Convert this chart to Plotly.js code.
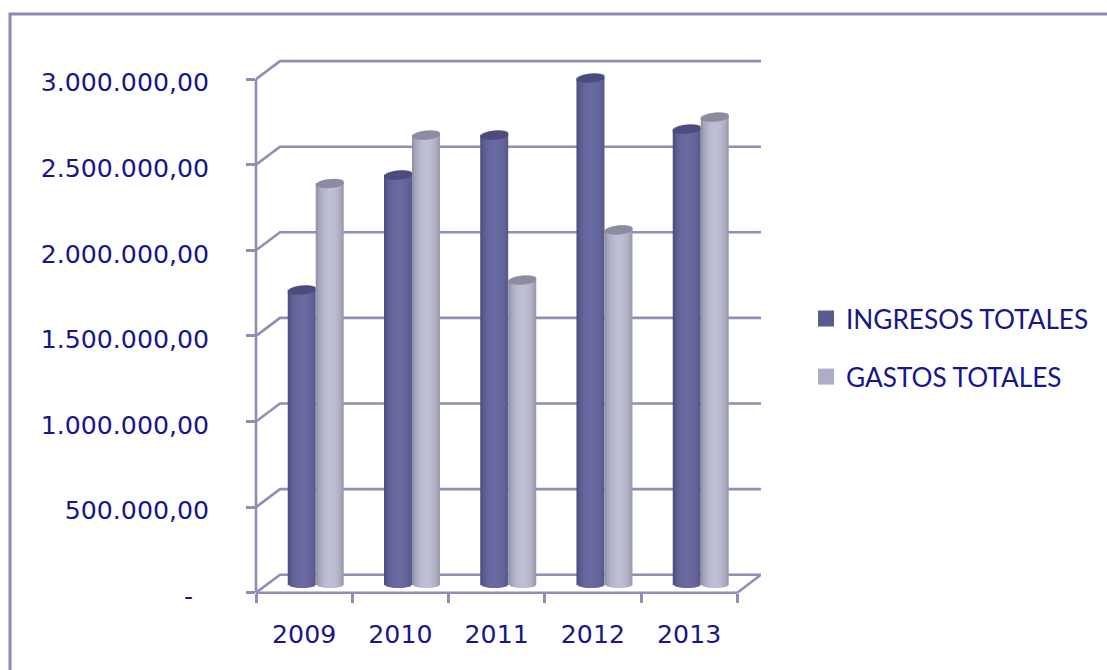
<!DOCTYPE html>
<html>
<head>
<meta charset="utf-8">
<script src="https://cdn.plot.ly/plotly-3.0.1.min.js"></script>
<style>html,body{margin:0;padding:0;background:#fff}#chart{width:1107px;height:670px}</style>
</head>
<body>
<div id="chart"></div>
<script>
// Yearly totals
const years = ['2009', '2010', '2011', '2012', '2013'];
const ingresos = [1715000, 2387000, 2620000, 2953000, 2655000];
const gastos = [2337000, 2620000, 1773000, 2066000, 2725000];
const seriesNames = ['INGRESOS TOTALES', 'GASTOS TOTALES'];
const yTicks = [0, 500000, 1000000, 1500000, 2000000, 2500000, 3000000];
const yTickLabels = ['-\u00a0\u00a0', '500.000,00', '1.000.000,00', '1.500.000,00', '2.000.000,00', '2.500.000,00', '3.000.000,00'];
const xBoundaries = [-0.5, 0.5, 1.5, 2.5, 3.5, 4.5];

// Page geometry, in pixels
const W = 1107, H = 670;
const plotLeft = 256, plotRight = 761, plotTop = 55, plotBottom = 620;
const axisY = 592.7;
const pxPerUnit = 85.6 / 500000;
const unitsPerPx = 1 / pxPerUnit;
const pxPerCat = 96.25;
const wallDx = 24 / pxPerCat, wallDy = 18 * unitsPerPx;

const yLo = (axisY - plotBottom) * unitsPerPx;
const yHi = (axisY - plotTop) * unitsPerPx;
const xLo = -0.5;
const xHi = xLo + (plotRight - plotLeft) / pxPerCat;

// Cylinder construction: each column is a run of narrow shaded strips
const colWidthPx = 28, stripPx = 2, radiusYPx = 4.5, capTiltPx = 1.2;
const stripCount = colWidthPx / stripPx;
const colDepthShift = 11.6 / pxPerCat;
const colBase = 53000;

function mix(a, b, t) {
  return 'rgb(' + a.map((v, i) => Math.round(v + (b[i] - v) * t)).join(',') + ')';
}

function cylinderTraces(values, seriesIndex, edge, rightEdge, centre, capColour) {
  const body = {x: [], y: [], base: [], width: [], color: []};
  const cap = {x: [], y: [], base: [], width: [], color: []};
  const stripW = stripPx / pxPerCat;
  values.forEach((v, cat) => {
    const left = cat + colDepthShift + (seriesIndex - 1) * colWidthPx / pxPerCat;
    for (let k = 0; k < stripCount; k++) {
      const u = (k + 0.5) / stripCount * 2 - 1;
      const h = radiusYPx * Math.sqrt(1 - u * u) * unitsPerPx;
      const tilt = capTiltPx * u * unitsPerPx;
      const top = colBase + v;
      const lower = colBase - h;
      const shade = Math.pow(Math.max(0, 1 - Math.pow((u - 0.05) / 1.05, 2)), 0.55);
      // Strips overlap the next one so no seams show between them
      const drawnW = k < stripCount - 1 ? stripW * 1.5 : stripW;
      const x = left + k * stripW + drawnW / 2;
      body.x.push(x);
      body.base.push(lower);
      body.y.push(top - lower + tilt);
      body.width.push(drawnW);
      body.color.push(mix(u < 0 ? edge : rightEdge, centre, shade));
      cap.x.push(x);
      cap.base.push(top + tilt - h);
      cap.y.push(2 * h);
      cap.width.push(drawnW);
      cap.color.push(capColour);
    }
  });
  const common = {type: 'bar', hoverinfo: 'skip', showlegend: false, xaxis: 'x', yaxis: 'y'};
  return [body, cap].map(s => Object.assign({}, common, {
    x: s.x, y: s.y, base: s.base, width: s.width,
    marker: {color: s.color, line: {width: 0}}
  }));
}

const legendColours = ['#5B5B91', '#ADADC6'];
const legendEntry = i => ({
  type: 'scatter', mode: 'markers', x: [null], y: [null],
  name: seriesNames[i], legendgroup: seriesNames[i],
  marker: {symbol: 'square', size: 18, color: legendColours[i]},
  xaxis: 'x', yaxis: 'y', hoverinfo: 'skip'
});

const traces = [
  ...cylinderTraces(ingresos, 0, [66, 66, 112], [72, 72, 118], [106, 106, 162], '#4B4B7E'),
  ...cylinderTraces(gastos, 1, [128, 128, 146], [118, 118, 134], [190, 190, 212], '#8C8CA0'),
  legendEntry(0),
  legendEntry(1)
];

const axisColour = '#8F8FB6';
const textColour = '#17178B';

// Back wall and floor lines, plus the two axis lines and the outer frame
const shapes = [];
const lineStyle = {color: axisColour, width: 2.6};
yTicks.forEach(t => {
  const back = t + wallDy;
  shapes.push({
    type: 'path', xref: 'x', yref: 'y', layer: 'below', line: lineStyle,
    path: `M ${xLo} ${t} L ${xLo + wallDx} ${back} L ${xHi} ${back}`
  });
});
shapes.push({
  type: 'line', xref: 'x', yref: 'y', layer: 'below', line: lineStyle,
  x0: xBoundaries[5], y0: 0, x1: xHi, y1: wallDy
});
shapes.push({
  type: 'line', xref: 'paper', yref: 'y', layer: 'below', line: lineStyle,
  x0: plotLeft / W, y0: 0, x1: plotLeft / W, y1: yTicks[6]
});
shapes.push({
  type: 'line', xref: 'x', yref: 'y', layer: 'below', line: lineStyle,
  x0: xLo, y0: 0, x1: xBoundaries[5], y1: 0
});
shapes.push({
  type: 'path', xref: 'paper', yref: 'paper', layer: 'below',
  line: {color: '#8C8CB2', width: 3},
  path: `M ${10 / W} -0.05 L ${10 / W} ${1 - 14 / H} L 1.05 ${1 - 14 / H}`
});

const labelShift = 3.5 * unitsPerPx;
const xDomain = [plotLeft / W, plotRight / W];
const axisFont = {family: 'DejaVu Sans, sans-serif', size: 25.2, color: textColour};

const layout = {
  width: W, height: H,
  margin: {l: 0, r: 0, t: 0, b: 0},
  paper_bgcolor: '#fff', plot_bgcolor: 'rgba(0,0,0,0)',
  barmode: 'overlay',
  showlegend: true,
  hovermode: false,
  legend: {
    x: 806 / W, xanchor: 'left', y: 1 - 295 / H, yanchor: 'top',
    font: {family: 'Lato, sans-serif', size: 26.2, color: textColour},
    bgcolor: 'rgba(0,0,0,0)', traceorder: 'grouped', tracegroupgap: 21,
    itemclick: false, itemdoubleclick: false
  },
  xaxis: {
    type: 'linear', domain: xDomain, range: [xLo, xHi], anchor: 'free',
    position: (H - axisY) / H, showgrid: false, zeroline: false, showline: false,
    tickmode: 'array', tickvals: years.map((_, i) => i), ticktext: years,
    ticks: '', tickfont: axisFont, ticklabelstandoff: 24
  },
  xaxis2: {
    type: 'linear', domain: xDomain, range: [xLo, xHi], overlaying: 'x', anchor: 'free',
    position: (H - axisY) / H, showgrid: false, zeroline: false, showline: false,
    tickmode: 'array', tickvals: xBoundaries, ticktext: xBoundaries.map(() => ''),
    ticks: 'outside', ticklen: 9, tickwidth: 2.6, tickcolor: axisColour, side: 'bottom'
  },
  yaxis: {
    domain: [(H - plotBottom) / H, (H - plotTop) / H], range: [yLo, yHi], anchor: 'x',
    showgrid: false, zeroline: false, showline: false,
    tickmode: 'array', tickvals: yTicks, ticktext: yTicks.map(() => ''),
    ticks: 'outside', ticklen: 9, tickwidth: 2.6, tickcolor: axisColour
  },
  yaxis2: {
    domain: [(H - plotBottom) / H, (H - plotTop) / H], range: [yLo + labelShift, yHi + labelShift],
    overlaying: 'y', anchor: 'x', side: 'left',
    showgrid: false, zeroline: false, showline: false,
    tickmode: 'array', tickvals: yTicks, ticktext: yTickLabels,
    ticks: '', tickfont: axisFont, ticklabelstandoff: 46
  },
  shapes: shapes
};

// Empty companion trace keeps the tick-only and label-only axes drawn
traces.push({type: 'scatter', x: [null], y: [null], xaxis: 'x2', yaxis: 'y2', showlegend: false, hoverinfo: 'skip'});

Plotly.newPlot('chart', traces, layout, {displayModeBar: false, responsive: false});
</script>
</body>
</html>
